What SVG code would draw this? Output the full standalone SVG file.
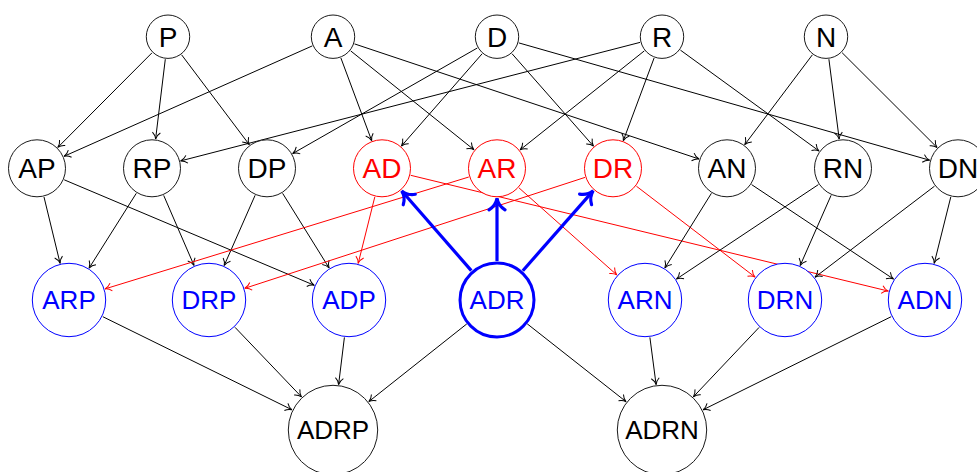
<svg xmlns="http://www.w3.org/2000/svg" width="977" height="472" viewBox="0 0 977 472">
<defs>
<style>
.k{fill:#fff;stroke:#1a1a1a;stroke-width:1}
.r{fill:#fff;stroke:#ff0000;stroke-width:1}
.b{fill:#fff;stroke:#0000ff;stroke-width:1}
.bb{fill:#fff;stroke:#0000ff;stroke-width:3}
text{font-family:"Liberation Sans",Arial,sans-serif;text-anchor:middle}
.t1{font-size:28px;fill:#000}
.tr{font-size:28px;fill:#ff0000}
.tb{font-size:26px;fill:#0000ff}
.tk{font-size:26px;fill:#000}
.e{stroke:#000;stroke-width:1;fill:none;marker-end:url(#ak)}
.er{stroke:#ff0000;stroke-width:1;fill:none;marker-end:url(#ar)}
.eb{stroke:#0000ff;stroke-width:3.2;fill:none;marker-end:url(#ab)}
</style>
<marker id="ak" viewBox="-8 -5 9 10" refX="0" refY="0" markerWidth="9" markerHeight="10" markerUnits="userSpaceOnUse" orient="auto"><path d="M-6.5,-4 C-4.5,-1.5 -1.5,-0.3 0,0 C-1.5,0.3 -4.5,1.5 -6.5,4" fill="none" stroke="#000" stroke-width="1"/></marker>
<marker id="ar" viewBox="-8 -5 9 10" refX="0" refY="0" markerWidth="9" markerHeight="10" markerUnits="userSpaceOnUse" orient="auto"><path d="M-6.5,-4 C-4.5,-1.5 -1.5,-0.3 0,0 C-1.5,0.3 -4.5,1.5 -6.5,4" fill="none" stroke="#ff0000" stroke-width="1"/></marker>
<marker id="ab" viewBox="-14 -10 18 20" refX="0" refY="0" markerWidth="18" markerHeight="20" markerUnits="userSpaceOnUse" orient="auto"><path d="M-10,-8 C-7,-3 -2,-0.6 1.5,0 C-2,0.6 -7,3 -10,8" fill="none" stroke="#0000ff" stroke-width="3.2" stroke-linecap="round"/></marker>
</defs>
<rect width="977" height="472" fill="#fff"/>
<g id="connectors">
<line class="e" x1="152.0" y1="52.8" x2="57.8" y2="147.4"/>
<line class="e" x1="165.3" y1="59.2" x2="155.6" y2="139.0"/>
<line class="e" x1="181.6" y1="54.8" x2="249.3" y2="144.7"/>
<line class="e" x1="312.3" y1="45.9" x2="64.0" y2="156.3"/>
<line class="e" x1="340.9" y1="58.0" x2="371.7" y2="140.7"/>
<line class="e" x1="350.7" y1="50.9" x2="474.0" y2="149.8"/>
<line class="e" x1="354.5" y1="43.9" x2="699.0" y2="159.0"/>
<line class="e" x1="477.3" y1="48.0" x2="292.6" y2="153.6"/>
<line class="e" x1="482.1" y1="53.8" x2="401.4" y2="146.1"/>
<line class="e" x1="512.0" y1="53.7" x2="593.5" y2="146.2"/>
<line class="e" x1="518.8" y1="42.9" x2="929.6" y2="160.2"/>
<line class="e" x1="640.0" y1="42.4" x2="180.6" y2="160.9"/>
<line class="e" x1="644.3" y1="50.9" x2="520.1" y2="149.9"/>
<line class="e" x1="654.1" y1="58.0" x2="623.3" y2="140.7"/>
<line class="e" x1="680.4" y1="50.1" x2="819.1" y2="151.0"/>
<line class="e" x1="812.4" y1="54.8" x2="744.7" y2="144.7"/>
<line class="e" x1="828.9" y1="59.2" x2="839.2" y2="139.0"/>
<line class="e" x1="842.1" y1="52.7" x2="937.1" y2="147.5"/>
<line class="e" x1="44.0" y1="197.0" x2="60.1" y2="263.4"/>
<line class="e" x1="64.2" y1="179.8" x2="314.3" y2="285.3"/>
<line class="e" x1="136.3" y1="193.3" x2="89.1" y2="268.1"/>
<line class="e" x1="163.7" y1="195.4" x2="194.0" y2="265.4"/>
<line class="e" x1="255.1" y1="195.3" x2="224.2" y2="265.5"/>
<line class="e" x1="282.6" y1="193.3" x2="329.1" y2="268.0"/>
<line class="er" x1="374.8" y1="196.9" x2="358.2" y2="263.4"/>
<line class="er" x1="410.7" y1="175.3" x2="888.4" y2="291.1"/>
<line class="er" x1="468.8" y1="177.0" x2="105.0" y2="288.9"/>
<line class="er" x1="519.0" y1="187.9" x2="616.8" y2="274.9"/>
<line class="er" x1="585.0" y1="177.4" x2="244.8" y2="288.3"/>
<line class="er" x1="636.4" y1="186.2" x2="755.1" y2="277.1"/>
<line class="e" x1="711.4" y1="193.3" x2="664.9" y2="268.0"/>
<line class="e" x1="751.6" y1="184.6" x2="893.6" y2="279.1"/>
<line class="e" x1="818.4" y1="184.6" x2="676.4" y2="279.1"/>
<line class="e" x1="831.1" y1="195.3" x2="800.2" y2="265.5"/>
<line class="e" x1="934.5" y1="186.2" x2="815.0" y2="277.2"/>
<line class="e" x1="950.8" y1="196.9" x2="934.2" y2="263.4"/>
<line class="eb" x1="471.3" y1="270.6" x2="402.7" y2="192.0"/>
<line class="eb" x1="497" y1="261" x2="497" y2="199.8"/>
<line class="eb" x1="522.8" y1="270.7" x2="592.2" y2="191.9"/>
<line class="e" x1="102.8" y1="316.7" x2="292.0" y2="409.8"/>
<line class="e" x1="235.0" y1="327.3" x2="301.5" y2="396.9"/>
<line class="e" x1="344.4" y1="337.4" x2="338.6" y2="384.6"/>
<line class="e" x1="466.8" y1="323.9" x2="368.8" y2="401.6"/>
<line class="e" x1="527.2" y1="323.8" x2="626.1" y2="401.7"/>
<line class="e" x1="649.9" y1="337.4" x2="656.1" y2="384.7"/>
<line class="e" x1="759.1" y1="327.4" x2="693.4" y2="396.8"/>
<line class="e" x1="891.2" y1="316.7" x2="703.0" y2="409.8"/>
</g>
<g id="P"><circle class="k" cx="168" cy="36.7" r="21.7"/><text class="t1" x="168" y="46.7">P</text></g>
<g id="A"><circle class="k" cx="333" cy="36.7" r="21.7"/><text class="t1" x="333" y="46.7">A</text></g>
<g id="D"><circle class="k" cx="497" cy="36.7" r="21.7"/><text class="t1" x="497" y="46.7">D</text></g>
<g id="R"><circle class="k" cx="662" cy="36.7" r="21.7"/><text class="t1" x="662" y="46.7">R</text></g>
<g id="N"><circle class="k" cx="826" cy="36.7" r="21.7"/><text class="t1" x="826" y="46.7">N</text></g>
<g id="AP"><circle class="k" cx="37" cy="168.3" r="28.5"/><text class="t1" x="37" y="178.3">AP</text></g>
<g id="RP"><circle class="k" cx="152" cy="168.3" r="28.5"/><text class="t1" x="152" y="178.3">RP</text></g>
<g id="DP"><circle class="k" cx="267" cy="168.3" r="28.5"/><text class="t1" x="267" y="178.3">DP</text></g>
<g id="AD"><circle class="r" cx="382" cy="168.3" r="28.5"/><text class="tr" x="382" y="178.3">AD</text></g>
<g id="AR"><circle class="r" cx="497" cy="168.3" r="28.5"/><text class="tr" x="497" y="178.3">AR</text></g>
<g id="DR"><circle class="r" cx="613" cy="168.3" r="28.5"/><text class="tr" x="613" y="178.3">DR</text></g>
<g id="AN"><circle class="k" cx="727" cy="168.3" r="28.5"/><text class="t1" x="727" y="178.3">AN</text></g>
<g id="RN"><circle class="k" cx="843" cy="168.3" r="28.5"/><text class="t1" x="843" y="178.3">RN</text></g>
<g id="DN"><circle class="k" cx="958" cy="168.3" r="28.5"/><text class="t1" x="958" y="178.3">DN</text></g>
<g id="ARP"><circle class="b" cx="69" cy="300" r="36.7"/><text class="tb" x="69" y="309.3">ARP</text></g>
<g id="DRP"><circle class="b" cx="209" cy="300" r="36.7"/><text class="tb" x="209" y="309.3">DRP</text></g>
<g id="ADP"><circle class="b" cx="349" cy="300" r="36.7"/><text class="tb" x="349" y="309.3">ADP</text></g>
<g id="ADR"><circle class="bb" cx="497" cy="300" r="37"/><text class="tb" x="497" y="309.3">ADR</text></g>
<g id="ARN"><circle class="b" cx="645" cy="300" r="36.7"/><text class="tb" x="645" y="309.3">ARN</text></g>
<g id="DRN"><circle class="b" cx="785" cy="300" r="36.7"/><text class="tb" x="785" y="309.3">DRN</text></g>
<g id="ADN"><circle class="b" cx="925" cy="300" r="36.7"/><text class="tb" x="925" y="309.3">ADN</text></g>
<g id="ADRP"><circle class="k" cx="333" cy="430" r="44.7"/><text class="tk" x="333" y="439.3">ADRP</text></g>
<g id="ADRN"><circle class="k" cx="662" cy="430" r="44.7"/><text class="tk" x="662" y="439.3">ADRN</text></g>
</svg>
